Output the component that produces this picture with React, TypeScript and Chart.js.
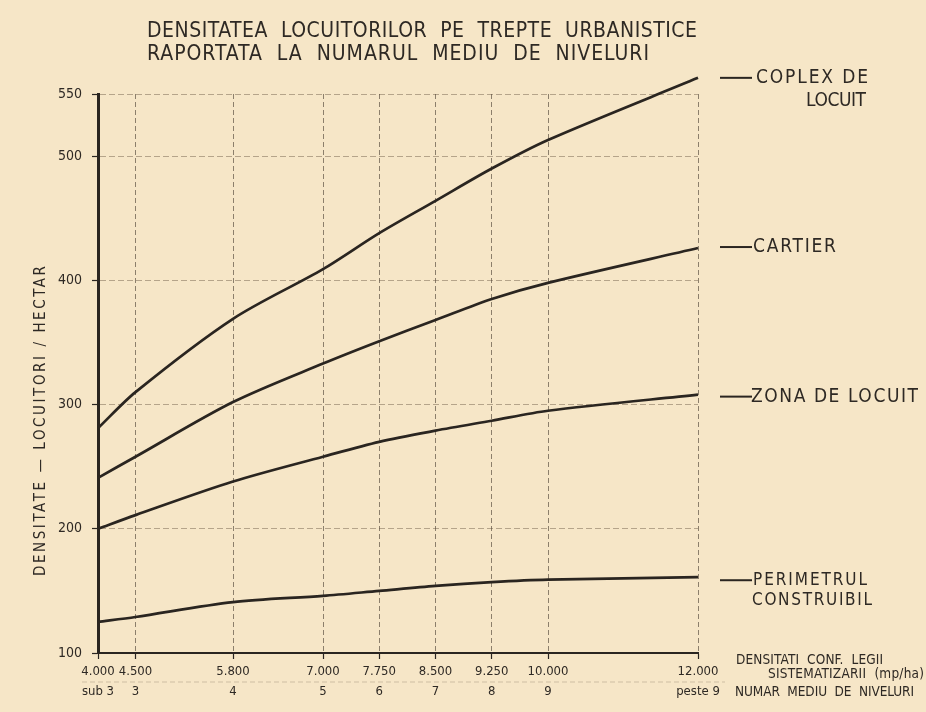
import React, { useEffect, useRef } from 'react';
import { Chart, registerables } from 'chart.js';

Chart.register(...registerables);

// ---- data ----
const densityTicks = [4000, 4500, 5800, 7000, 7750, 8500, 9250, 10000, 12000];
const densityLabels = ['4.000', '4.500', '5.800', '7.000', '7.750', '8.500', '9.250', '10.000', '12.000'];
const floorLabels = ['sub 3', '3', '4', '5', '6', '7', '8', '9', 'peste 9'];
const yTickValues = [100, 200, 300, 400, 500, 550];

const complexValues = [281, 310, 369, 409, 438, 464, 490, 513, 563];
const cartierValues = [241, 258, 302, 333, 351, 368, 385, 398, 426];
const zonaValues = [200, 211, 238, 258, 270, 279, 287, 295, 308];
const perimetruValues = [125, 129, 141, 146, 150, 154, 157, 159, 161];

const seriesNames = ['COPLEX DE LOCUIT', 'CARTIER', 'ZONA DE LOCUIT', 'PERIMETRUL CONSTRUIBIL'];
const seriesLabelLines = [['COPLEX DE', 'LOCUIT'], ['CARTIER'], ['ZONA DE LOCUIT'], ['PERIMETRUL', 'CONSTRUIBIL']];

const titleLines = ['DENSITATEA  LOCUITORILOR  PE  TREPTE  URBANISTICE', 'RAPORTATA  LA  NUMARUL  MEDIU  DE  NIVELURI'];
const yTitle = 'DENSITATE — LOCUITORI / HECTAR';
const xTitleLines = ['DENSITATI  CONF.  LEGII', 'SISTEMATIZARII  (mp/ha)'];
const floorTitle = 'NUMAR  MEDIU  DE  NIVELURI';

// ---- style ----
const FONT = '"DejaVu Sans Condensed", "Liberation Sans Narrow", "DejaVu Sans", sans-serif';
const BG = '#f6e6c7';
const INK = '#2a2520';
const TEXT = '#2e2924';

function fillFit(ctx: CanvasRenderingContext2D, text: string, x: number, y: number, w: number, size: number) {
  ctx.font = `${size}px ${FONT}`;
  (ctx as any).letterSpacing = '0px';
  const w0 = ctx.measureText(text).width;
  const ls = text.length > 1 ? (w - w0) / (text.length - 1) : 0;
  (ctx as any).letterSpacing = ls + 'px';
  ctx.textAlign = 'left';
  ctx.textBaseline = 'middle';
  ctx.fillText(text, x, y);
  (ctx as any).letterSpacing = '0px';
}

const decorPlugin = {
  id: 'decor',
  beforeDraw(chart: any) {
    const { ctx, width, height } = chart;
    ctx.save();
    ctx.fillStyle = BG;
    ctx.fillRect(0, 0, width, height);
    ctx.restore();
  },
  afterDraw(chart: any) {
    const { ctx } = chart;
    const yScale = chart.scales.y;
    ctx.save();
    ctx.fillStyle = TEXT;

    // title
    fillFit(ctx, titleLines[0], 147, 32, 550, 21);
    fillFit(ctx, titleLines[1], 147, 55, 502, 21);

    // y axis title (rotated)
    ctx.save();
    ctx.translate(41, 576);
    ctx.rotate(-Math.PI / 2);
    fillFit(ctx, yTitle, 0, 0, 310, 15);
    ctx.restore();

    // series labels at curve ends
    const layout = [
      { lines: [{ x: 756, w: 112 }, { x: 806, w: 60 }], size: 19, dy: 0, gap: 23 },
      { lines: [{ x: 753, w: 83 }], size: 19, dy: -1, gap: 0 },
      { lines: [{ x: 751, w: 167 }], size: 19, dy: 2, gap: 0 },
      { lines: [{ x: 753, w: 114 }, { x: 752, w: 120 }], size: 17, dy: 3, gap: 20 },
    ];
    const ends = [complexValues, cartierValues, zonaValues, perimetruValues].map(a => a[a.length - 1]);
    ends.forEach((v, i) => {
      const y = yScale.getPixelForValue(v) + layout[i].dy;
      ctx.strokeStyle = INK;
      ctx.lineWidth = 2;
      ctx.beginPath();
      ctx.moveTo(720, y);
      ctx.lineTo(752, y);
      ctx.stroke();
      seriesLabelLines[i].forEach((line, j) => {
        const spec = layout[i].lines[j];
        fillFit(ctx, line, spec.x, y + j * layout[i].gap, spec.w, layout[i].size);
      });
    });

    // x axis titles
    fillFit(ctx, xTitleLines[0], 736, 660, 147, 13.5);
    fillFit(ctx, xTitleLines[1], 768, 674, 156, 13.5);
    fillFit(ctx, floorTitle, 735, 692, 179, 13.5);

    // faint separator between label rows
    ctx.strokeStyle = 'rgba(90,75,55,0.25)';
    ctx.lineWidth = 1;
    ctx.setLineDash([5, 3]);
    ctx.beginPath();
    ctx.moveTo(82, 682);
    ctx.lineTo(725, 682);
    ctx.stroke();
    ctx.restore();
  },
};

export default function App() {
  const ref = useRef<HTMLCanvasElement | null>(null);

  useEffect(() => {
    document.body.style.margin = '0';
    document.body.style.background = BG;
    const canvas = ref.current;
    if (!canvas) return;

    const mk = (label: string, values: number[]) => ({
      label,
      data: densityTicks.map((x, i) => ({ x, y: values[i] })),
      borderColor: INK,
      backgroundColor: INK,
      borderWidth: 2.7,
      pointRadius: 0,
      tension: 0.3,
      clip: false as any,
      fill: false,
    });

    const chart = new Chart(canvas, {
      type: 'line',
      data: {
        datasets: [
          mk(seriesNames[0], complexValues),
          mk(seriesNames[1], cartierValues),
          mk(seriesNames[2], zonaValues),
          mk(seriesNames[3], perimetruValues),
        ],
      },
      options: {
        animation: false,
        responsive: false,
        devicePixelRatio: 1,
        layout: { padding: { top: 94, right: 228, bottom: 0, left: 0 } },
        plugins: {
          legend: { display: false },
          tooltip: { enabled: false },
          title: { display: false },
        },
        scales: {
          x: {
            type: 'linear',
            min: 4000,
            max: 12000,
            afterBuildTicks: (s: any) => {
              s.ticks = densityTicks.map(v => ({ value: v }));
            },
            afterFit: (s: any) => {
              s.height = 59;
            },
            ticks: {
              autoSkip: false,
              maxRotation: 0,
              minRotation: 0,
              padding: 3,
              color: TEXT,
              font: { family: FONT, size: 13, lineHeight: 1.5 },
              callback: (value: any) => {
                const i = densityTicks.indexOf(Number(value));
                return i >= 0 ? [densityLabels[i], floorLabels[i]] : '';
              },
            },
            grid: {
              color: 'rgba(70,58,45,0.6)',
              lineWidth: 1,
              tickLength: 6,
              tickColor: INK,
              tickWidth: 1.2,
              tickBorderDash: [],
            },
            border: { display: true, color: INK, width: 2, dash: [5, 3] },
          },
          y: {
            type: 'linear',
            min: 100,
            max: 550,
            afterBuildTicks: (s: any) => {
              s.ticks = yTickValues.map(v => ({ value: v }));
            },
            afterFit: (s: any) => {
              s.width = 98;
            },
            ticks: {
              autoSkip: false,
              padding: 10,
              color: TEXT,
              font: { family: FONT, size: 14 },
              callback: (value: any) => String(value),
            },
            grid: {
              color: 'rgba(90,75,55,0.42)',
              lineWidth: 1,
              tickLength: 6,
              tickColor: INK,
              tickWidth: 1.2,
              tickBorderDash: [],
            },
            border: { display: true, color: INK, width: 3, dash: [6, 3] },
          },
        },
      },
      plugins: [decorPlugin],
    });

    return () => chart.destroy();
  }, []);

  return (
    <div style={{ width: 926, height: 712, background: BG }}>
      <canvas ref={ref} width={926} height={712} style={{ display: 'block', width: 926, height: 712 }} />
    </div>
  );
}
